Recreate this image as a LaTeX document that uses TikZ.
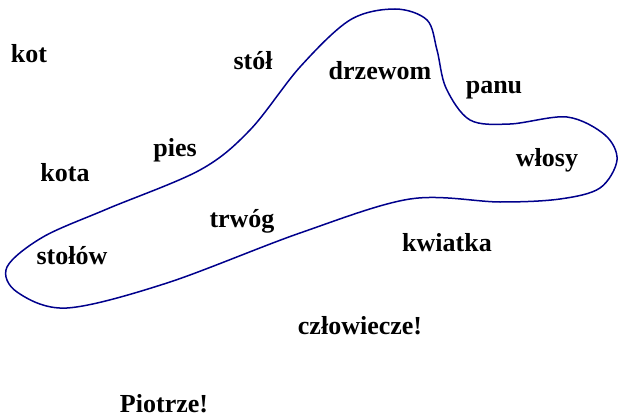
\documentclass[tikz,border=0pt]{standalone}
\usepackage{fontspec}
\setmainfont{Liberation Serif}
\definecolor{navyline}{RGB}{0,0,140}
\tikzset{
  word/.style={font=\bfseries\fontsize{26}{30}\selectfont, inner sep=0pt, anchor=base},
  border/.style={navyline, line width=1.5pt}
}
\begin{document}
\begin{tikzpicture}[x=1pt,y=-1pt]
      \useasboundingbox (0,0) rectangle (618,417);
      % Draw the closed curve
      \draw[border] plot[smooth cycle, tension=0.55] coordinates {
        (300,67) (350,20) (395,9) (427,20) (437,50) (446,88) (470,120)
        (510,124) (567,117) (605,135) (617,160) (600,188) (560,199)
        (500,202) (410,199) (300,233) (167,283) (67,308) (17,292)
        (7,267) (43,237) (107,209) (200,170) (250,130)};
      % Words
      \node[word] (kot) at (29,63) {kot};
      \node[word] (stol) at (253,70) {stół};
      \node[word] (pies) at (175,157) {pies};
      \node[word] (kota) at (65,181) {kota};
      \node[word] (drzewom) at (380,80) {drzewom};
      \node[word] (panu) at (494,94) {panu};
      \node[word] (wlosy) at (547,166) {włosy};
      \node[word] (trwog) at (242,227) {trwóg};
      \node[word] (stolow) at (72,264) {stołów};
      \node[word] (kwiatka) at (447,251) {kwiatka};
      \node[word] (czlowiecze) at (360,334) {człowiecze!};
      \node[word] (piotrze) at (164,412) {Piotrze!};
\end{tikzpicture}
\end{document}
